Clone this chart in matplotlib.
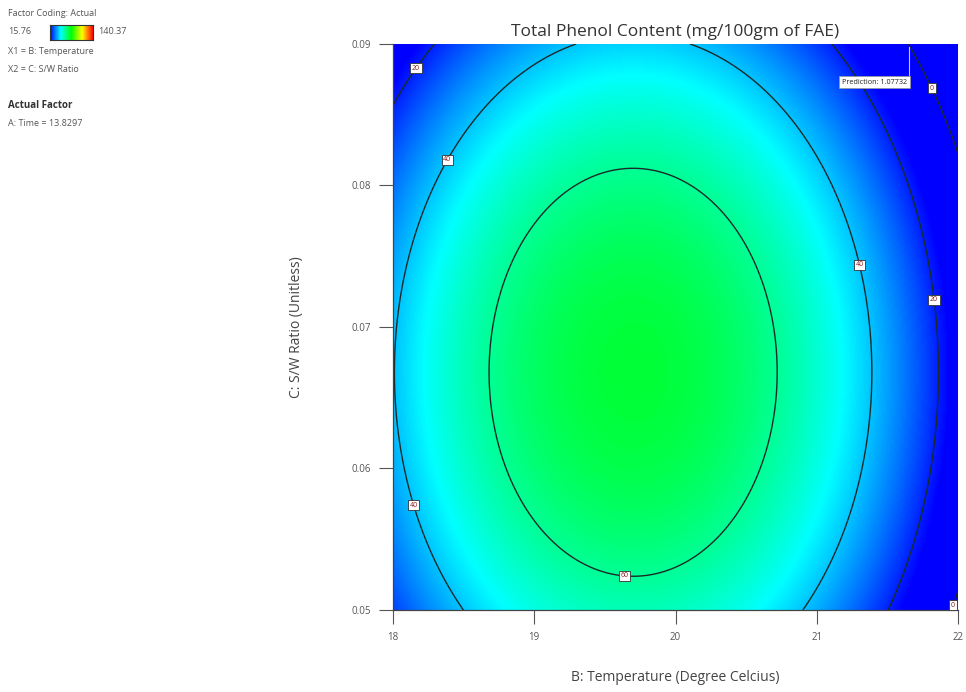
import numpy as np
import matplotlib
matplotlib.use("Agg")
import matplotlib.pyplot as plt
from matplotlib.colors import LinearSegmentedColormap

plt.rcParams['font.family'] = ['Open Sans', 'DejaVu Sans']

# Factor ranges
temp_range = [18.0, 22.0]          # B: Temperature
ratio_range = [0.05, 0.09]         # C: S/W Ratio
time_fixed = 13.8297               # A: Time (held constant)

# Fitted quadratic response (Total Phenol Content)
peak_value = 71.45
temp_opt = 19.70
ratio_opt = 0.0668
temp_curv = 11.01
ratio_curv = 55100.0

# Colour scale limits of the response
resp_min = 15.76
resp_max = 140.37

contour_levels = [0, 20, 40, 60]
x_ticks = [18, 19, 20, 21, 22]
y_ticks = [0.05, 0.06, 0.07, 0.08, 0.09]

# Contour label anchor points (temperature, ratio)
label_spots = [(18.15, 0.0884), (18.37, 0.0819), (21.31, 0.0744),
               (21.82, 0.0719), (21.82, 0.0869), (18.14, 0.0574),
               (19.64, 0.0527), (21.94, 0.0504)]

# Flagged prediction point
pred_temp = 21.65
pred_ratio = 0.0898
pred_text = "Prediction: 1.07732"

de_cmap = LinearSegmentedColormap.from_list(
    "de", [(0, 0, 1), (0, 1, 1), (0, 1, 0), (1, 1, 0), (1, 0, 0)])

fig = plt.figure(figsize=(9.66, 6.92), dpi=100)
ax = fig.add_axes([393 / 966, 82 / 692, 565 / 966, 566 / 692])

xs = np.linspace(*temp_range, 400)
ys = np.linspace(*ratio_range, 400)
X, Y = np.meshgrid(xs, ys)
Z = peak_value - temp_curv * (X - temp_opt) ** 2 - ratio_curv * (Y - ratio_opt) ** 2

ax.imshow(Z, extent=[*temp_range, *ratio_range], origin="lower", aspect="auto",
          cmap=de_cmap, vmin=resp_min, vmax=resp_max, interpolation="bilinear")
cs = ax.contour(X, Y, Z, levels=contour_levels, colors="#1a2a2a", linewidths=1.0)
labels = ax.clabel(cs, fmt="%d", manual=label_spots, inline=False, fontsize=5,
                   colors="#8b1a1a")
for t in labels:
    t.set_rotation(0)
    t.set_bbox(dict(boxstyle="square,pad=0.25", fc="white", ec="#333333", lw=0.6))

# Prediction flag
ax.plot([pred_temp, pred_temp], [pred_ratio, pred_ratio - 0.0020], color="#c8c8e8", lw=0.8)
ax.text(pred_temp - 0.01, pred_ratio - 0.0025, pred_text, fontsize=5.2, ha="right", va="center",
        color="#222222",
        bbox=dict(boxstyle="square,pad=0.35", fc="white", ec="#999999", lw=0.5))

ax.set_xlim(*temp_range)
ax.set_ylim(*ratio_range)
ax.set_xticks(x_ticks)
ax.set_xticklabels([str(v) for v in x_ticks])
ax.set_yticks(y_ticks)
ax.set_yticklabels([f"{v:.2f}" for v in y_ticks])
ax.tick_params(direction="out", length=10, width=0.8, colors="#555555", labelsize=7,
               labelcolor="#555555", pad=6)
for side in ["top", "right"]:
    ax.spines[side].set_visible(False)
for side in ["left", "bottom"]:
    ax.spines[side].set_color("#444444")
    ax.spines[side].set_linewidth(0.9)

ax.set_title("Total Phenol Content (mg/100gm of FAE)", fontsize=12.5, color="#333333", pad=6)
ax.set_xlabel("B: Temperature (Degree Celcius)", fontsize=10, color="#444444", labelpad=19)
ax.set_ylabel("C: S/W Ratio (Unitless)", fontsize=10, color="#444444", labelpad=34)

# Factor information panel
txt_kw = dict(fontsize=6.5, color="#555555", transform=fig.transFigure, va="center", ha="left")
fig.text(8 / 966, 1 - 13 / 692, "Factor Coding: Actual", **txt_kw)
fig.text(8 / 966, 1 - 32 / 692, f"{resp_min:.2f}", **txt_kw)
fig.text(98 / 966, 1 - 32 / 692, f"{resp_max:.2f}", **txt_kw)
fig.text(8 / 966, 1 - 51 / 692, "X1 = B: Temperature", **txt_kw)
fig.text(8 / 966, 1 - 70 / 692, "X2 = C: S/W Ratio", **txt_kw)
fig.text(8 / 966, 1 - 106 / 692, "Actual Factor", fontsize=7, fontweight="bold",
         color="#333333", transform=fig.transFigure, va="center", ha="left")
fig.text(8 / 966, 1 - 124 / 692, f"A: Time = {time_fixed}", **txt_kw)

cax = fig.add_axes([50 / 966, 1 - 40 / 692, 43 / 966, 15 / 692])
cax.imshow(np.linspace(0, 1, 256)[None, :], cmap=de_cmap, aspect="auto")
cax.set_xticks([])
cax.set_yticks([])
for s in cax.spines.values():
    s.set_color("#333333")
    s.set_linewidth(0.8)

fig.savefig("out.png", dpi=100)
